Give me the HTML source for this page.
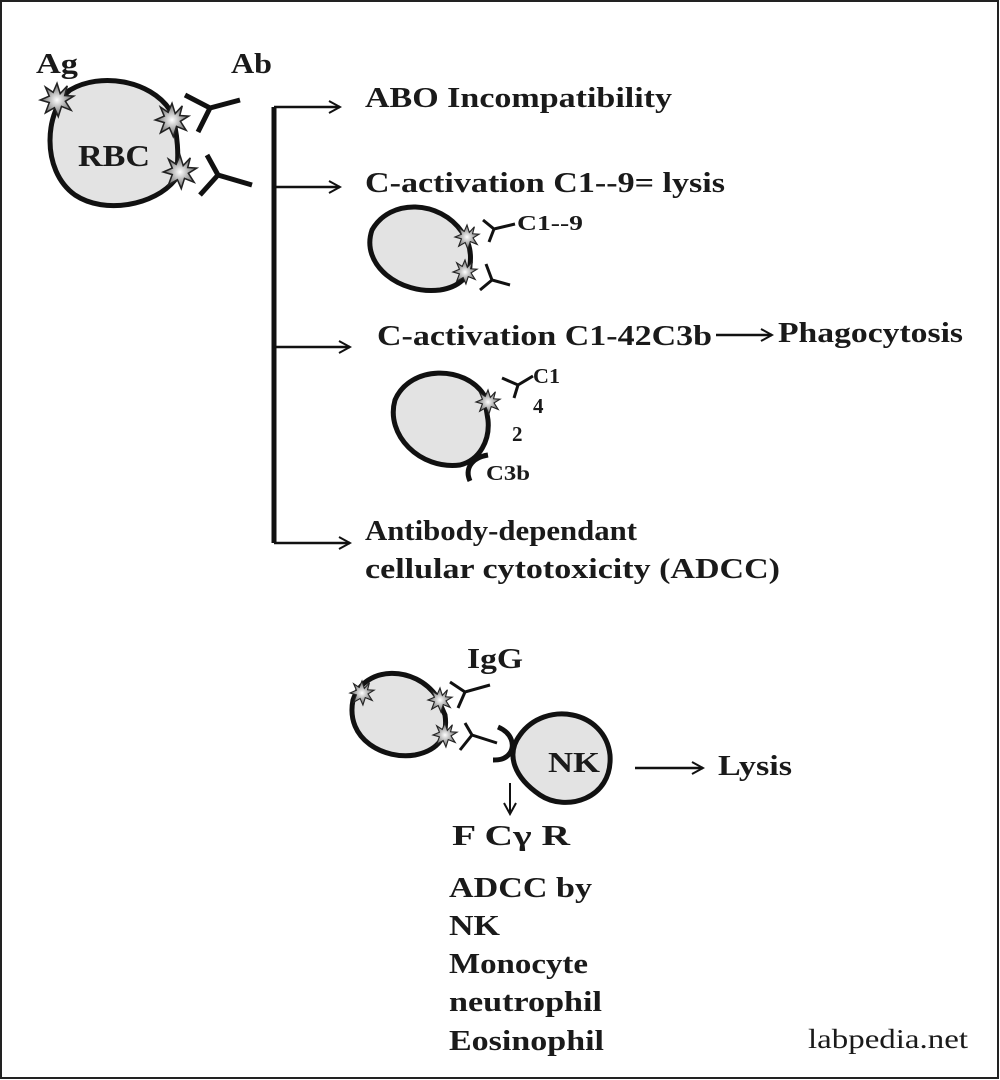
<!DOCTYPE html>
<html><head><meta charset="utf-8"><style>
html,body{margin:0;padding:0;background:#fff}
svg{display:block}
text{font-family:"Liberation Serif",serif;font-weight:bold;fill:#1a1a1a}
</style></head><body>
<svg width="1000" height="1080" viewBox="0 0 1000 1080" xmlns="http://www.w3.org/2000/svg">
<defs>
<radialGradient id="sg"><stop offset="0" stop-color="#fff"/><stop offset="1" stop-color="#666"/></radialGradient>
<symbol id="st" viewBox="-14 -14 28 28" overflow="visible">
<polygon points="0,-13 2.5,-5 8,-11 6,-3.5 13,-3 6.5,1 11,8 3.5,5 1,13 -2,6 -9,10 -6,2 -13,0 -6,-3 -9,-10 -3,-6" fill="url(#sg)" stroke="#222" stroke-width="1.2"/>
</symbol>
<marker id="ah" markerWidth="14" markerHeight="14" refX="12" refY="7" orient="auto" markerUnits="userSpaceOnUse">
<path d="M1,1 L12,7 L1,13" fill="none" stroke="#111" stroke-width="2"/></marker>
</defs>
<rect x="1" y="1" width="997" height="1077" fill="none" stroke="#222" stroke-width="2"/>
<g fill="#e3e3e3" stroke="#111" stroke-width="5">
<path d="M170,110 C150,80 100,72 70,90 C45,110 40,170 75,195 C105,215 155,205 175,180 C180,160 178,130 170,110Z"/>
<path d="M462,232 C440,200 390,198 372,230 C360,265 400,295 440,290 C460,287 470,275 470,265 C472,250 468,240 462,232Z"/>
<path d="M484,395 C465,365 410,365 395,400 C385,435 420,470 460,465 C480,460 490,440 488,420Z"/>
<path d="M437,697 C415,665 365,665 353,700 C345,740 385,760 415,755 C440,750 448,735 445,715Z"/>
<path d="M520,735 C545,700 605,710 610,755 C613,800 565,812 540,795 C515,778 505,755 520,735Z"/>
</g>
<g fill="none" stroke="#111" stroke-width="5">
<path d="M185,95 L210,108 L240,100 M210,108 L198,132"/>
<path d="M207,155 L218,175 L252,185 M218,175 L200,195"/>
<path d="M274,107 L274,543"/>
</g>
<g fill="none" stroke="#111" stroke-width="3">
<path d="M483,220 L494,229 L515,224 M494,229 L489,242"/>
<path d="M486,264 L492,280 L510,285 M492,280 L480,290"/>
<path d="M502,378 L518,385 L533,376 M518,385 L514,398"/>
<path d="M470,481 C465,470 470,458 488,455" stroke-width="5"/>
<path d="M450,682 L465,692 L490,685 M465,692 L458,708"/>
<path d="M465,723 L472,735 L497,743 M472,735 L460,750"/>
<path d="M498,727 C512,733 515,745 510,753 C505,760 498,760 493,760" stroke-width="5"/>
</g>
<g fill="none" stroke="#111" stroke-width="2.5">
<path d="M274,107 H340" marker-end="url(#ah)"/>
<path d="M274,187 H340" marker-end="url(#ah)"/>
<path d="M274,347 H350" marker-end="url(#ah)"/>
<path d="M274,543 H350" marker-end="url(#ah)"/>
<path d="M716,335 H772" marker-end="url(#ah)"/>
<path d="M635,768 H703" marker-end="url(#ah)"/>
<path d="M510,783 V814" marker-end="url(#ah)" stroke-width="2"/>
</g>
<g>
<use href="#st" x="39" y="82" width="36" height="36"/>
<use href="#st" x="154" y="102" width="36" height="36"/>
<use href="#st" x="162" y="154" width="36" height="36"/>
<use href="#st" x="454" y="224" width="26" height="26"/>
<use href="#st" x="452" y="259" width="26" height="26"/>
<use href="#st" x="475" y="389" width="26" height="26"/>
<use href="#st" x="349" y="680" width="26" height="26"/>
<use href="#st" x="427" y="687" width="26" height="26"/>
<use href="#st" x="432" y="722" width="26" height="26"/>
</g>
<g font-size="29">
<text x="36" y="73" textLength="42" lengthAdjust="spacingAndGlyphs">Ag</text>
<text x="231" y="73" textLength="41" lengthAdjust="spacingAndGlyphs">Ab</text>
<text x="78" y="166" font-size="31" textLength="72" lengthAdjust="spacingAndGlyphs">RBC</text>
<text x="365" y="107" textLength="307" lengthAdjust="spacingAndGlyphs">ABO Incompatibility</text>
<text x="365" y="192" textLength="360" lengthAdjust="spacingAndGlyphs">C-activation C1--9= lysis</text>
<text x="377" y="345" textLength="335" lengthAdjust="spacingAndGlyphs">C-activation C1-42C3b</text>
<text x="778" y="342" textLength="185" lengthAdjust="spacingAndGlyphs">Phagocytosis</text>
<text x="365" y="540" textLength="272" lengthAdjust="spacingAndGlyphs">Antibody-dependant</text>
<text x="365" y="578" textLength="415" lengthAdjust="spacingAndGlyphs">cellular cytotoxicity (ADCC)</text>
<text x="467" y="668" textLength="56" lengthAdjust="spacingAndGlyphs">IgG</text>
<text x="548" y="772" textLength="52" lengthAdjust="spacingAndGlyphs">NK</text>
<text x="718" y="775" textLength="74" lengthAdjust="spacingAndGlyphs">Lysis</text>
<text x="452" y="845" textLength="118" lengthAdjust="spacingAndGlyphs">F C<tspan>γ</tspan> R</text>
<text x="449" y="897" textLength="143" lengthAdjust="spacingAndGlyphs">ADCC by</text>
<text x="449" y="935" textLength="51" lengthAdjust="spacingAndGlyphs">NK</text>
<text x="449" y="973" textLength="139" lengthAdjust="spacingAndGlyphs">Monocyte</text>
<text x="449" y="1011" textLength="153" lengthAdjust="spacingAndGlyphs">neutrophil</text>
<text x="449" y="1050" textLength="155" lengthAdjust="spacingAndGlyphs">Eosinophil</text>
</g>
<g font-size="21">
<text x="517" y="230" textLength="66" lengthAdjust="spacingAndGlyphs">C1--9</text>
<text x="533" y="383" textLength="27" lengthAdjust="spacingAndGlyphs">C1</text>
<text x="533" y="413">4</text>
<text x="512" y="441">2</text>
<text x="486" y="480" textLength="44" lengthAdjust="spacingAndGlyphs">C3b</text>
</g>
<text x="808" y="1048" font-size="27" style="font-weight:normal" textLength="160" lengthAdjust="spacingAndGlyphs">labpedia.net</text>
</svg>
</body></html>
